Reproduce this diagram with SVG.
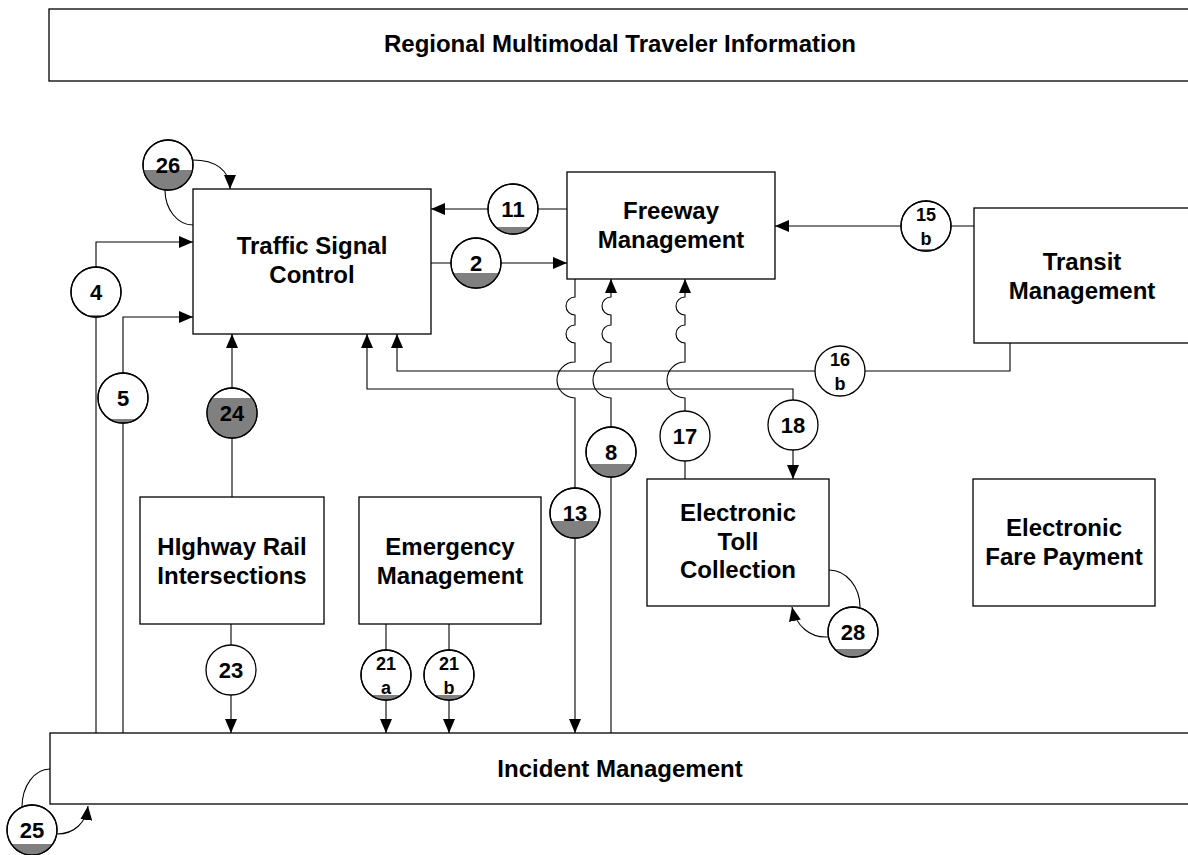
<svg xmlns="http://www.w3.org/2000/svg" width="1188" height="855" viewBox="0 0 1188 855">
<style>
.box{fill:#fff;stroke:#000;stroke-width:1.3}
.t{font-family:"Liberation Sans",Arial,sans-serif;font-weight:bold;font-size:24px;text-anchor:middle;fill:#000}
.n{font-family:"Liberation Sans",Arial,sans-serif;font-weight:bold;font-size:22px;text-anchor:middle;fill:#000}
.s{font-size:18px}
.w{fill:none;stroke:#000;stroke-width:1.1}
.cf{fill:#fff;stroke:#000;stroke-width:1.3}
.co{fill:none;stroke:#000;stroke-width:1.3}
.gr{fill:#808080;stroke:none}
</style>
<defs>
<marker id="ah" markerUnits="userSpaceOnUse" viewBox="0 0 14 12" refX="14" refY="6" markerWidth="14" markerHeight="12" orient="auto-start-reverse"><path d="M0,0 L14,6 L0,12 Z" fill="#000"/></marker>
</defs>

<g id="regional-info"><rect class="box" x="49" y="9" width="1160" height="72"/><text class="t" x="620" y="52">Regional Multimodal Traveler Information</text></g>
<g id="traffic-signal-control"><rect class="box" x="193" y="189" width="238" height="145"/><text class="t" x="312" y="254">Traffic Signal</text><text class="t" x="312" y="283">Control</text></g>
<g id="freeway-management"><rect class="box" x="567" y="172" width="208" height="107"/><text class="t" x="671" y="219">Freeway</text><text class="t" x="671" y="248">Management</text></g>
<g id="transit-management"><rect class="box" x="974" y="208" width="230" height="135"/><text class="t" x="1082" y="270">Transit</text><text class="t" x="1082" y="299">Management</text></g>
<g id="highway-rail"><rect class="box" x="140" y="497" width="184" height="127"/><text class="t" x="232" y="555">HIghway Rail</text><text class="t" x="232" y="584">Intersections</text></g>
<g id="emergency-management"><rect class="box" x="359" y="497" width="182" height="127"/><text class="t" x="450" y="555">Emergency</text><text class="t" x="450" y="584">Management</text></g>
<g id="electronic-toll"><rect class="box" x="647" y="479" width="182" height="127"/><text class="t" x="738" y="521">Electronic</text><text class="t" x="738" y="550">Toll</text><text class="t" x="738" y="578">Collection</text></g>
<g id="electronic-fare"><rect class="box" x="973" y="479" width="182" height="127"/><text class="t" x="1064" y="536">Electronic</text><text class="t" x="1064" y="565">Fare Payment</text></g>
<g id="incident-management"><rect class="box" x="50" y="733" width="1160" height="71"/><text class="t" x="620" y="777">Incident Management</text></g>

<g id="connectors">
<path class="w" marker-end="url(#ah)" d="M567,209 L431,209"/>
<path class="w" marker-end="url(#ah)" d="M431,263 L567,263"/>
<path class="w" marker-end="url(#ah)" d="M974,226 L775,226"/>
<path class="w" marker-end="url(#ah)" d="M1010,343 L1010,371 L397,371 L397,334"/>
<path class="w" marker-start="url(#ah)" marker-end="url(#ah)" d="M367,334 L367,389 L793,389 L793,479"/>
<path class="w" marker-end="url(#ah)" d="M685,479 L685,398 A18,18 0 0 1 685,362 L685,343 A9,9 0 0 1 685,325 L685,315 A9,9 0 0 1 685,297 L685,279"/>
<path class="w" marker-end="url(#ah)" d="M575,279 L575,297 A9,9 0 0 0 575,315 L575,325 A9,9 0 0 0 575,343 L575,362 A18,18 0 0 0 575,398 L575,733"/>
<path class="w" marker-end="url(#ah)" d="M611,733 L611,398 A18,18 0 0 1 611,362 L611,343 A9,9 0 0 1 611,325 L611,315 A9,9 0 0 1 611,297 L611,279"/>
<path class="w" marker-end="url(#ah)" d="M232,497 L232,334"/>
<path class="w" marker-end="url(#ah)" d="M96,733 L96,242 L193,242"/>
<path class="w" marker-end="url(#ah)" d="M123,733 L123,317 L193,317"/>
<path class="w" marker-end="url(#ah)" d="M231,624 L231,733"/>
<path class="w" marker-end="url(#ah)" d="M386,624 L386,733"/>
<path class="w" marker-end="url(#ah)" d="M449,624 L449,733"/>
<path class="w" marker-end="url(#ah)" d="M193,160 C215,160 230,170 230,189"/>
<path class="w" d="M193,225 A28,35 0 0 1 165,190"/>
<path class="w" d="M50,769 A28,38 0 0 0 22,807"/>
<path class="w" marker-end="url(#ah)" d="M57,834 C75,834 86,822 88,806"/>
<path class="w" d="M829,570 A31,37 0 0 1 860,607"/>
<path class="w" marker-end="url(#ah)" d="M828,637 C810,638 796,626 792,607"/>

<g id="f26"><circle class="cf" cx="168" cy="165" r="25"/><path class="gr" d="M143.51,170 A25,25 0 0 0 192.49,170 Z"/><circle class="co" cx="168" cy="165" r="25"/><text class="n" x="168" y="173">26</text></g>
<g id="f11"><circle class="cf" cx="513" cy="209" r="25"/><path class="gr" d="M495.65,227 A25,25 0 0 0 530.35,227 Z"/><circle class="co" cx="513" cy="209" r="25"/><text class="n" x="513" y="217">11</text></g>
<g id="f2"><circle class="cf" cx="476" cy="263" r="25"/><path class="gr" d="M453.09,273 A25,25 0 0 0 498.91,273 Z"/><circle class="co" cx="476" cy="263" r="25"/><text class="n" x="476" y="271">2</text></g>
<g id="f15b"><circle class="cf" cx="926" cy="226" r="25"/><path class="gr" d="M916.2,249 A25,25 0 0 0 935.8,249 Z"/><circle class="co" cx="926" cy="226" r="25"/><text class="n s" x="926" y="221">15</text><text class="n s" x="926" y="245">b</text></g>
<g id="f16b"><circle class="cf" cx="840" cy="371" r="25"/><text class="n s" x="840" y="366">16</text><text class="n s" x="840" y="390">b</text></g>
<g id="f18"><circle class="cf" cx="793" cy="425" r="25"/><text class="n" x="793" y="433">18</text></g>
<g id="f17"><circle class="cf" cx="685" cy="436" r="25"/><text class="n" x="685" y="444">17</text></g>
<g id="f4"><circle class="cf" cx="96" cy="292" r="25"/><path class="gr" d="M86.2,315 A25,25 0 0 0 105.8,315 Z"/><circle class="co" cx="96" cy="292" r="25"/><text class="n" x="96" y="300">4</text></g>
<g id="f5"><circle class="cf" cx="123" cy="398" r="25"/><path class="gr" d="M109.44,419 A25,25 0 0 0 136.56,419 Z"/><circle class="co" cx="123" cy="398" r="25"/><text class="n" x="123" y="406">5</text></g>
<g id="f24"><circle class="cf" cx="232" cy="413" r="25"/><path class="gr" d="M212,398 A25,25 0 1 0 252,398 Z"/><circle class="co" cx="232" cy="413" r="25"/><text class="n" x="232" y="421">24</text></g>
<g id="f23"><circle class="cf" cx="231" cy="670" r="25"/><text class="n" x="231" y="678">23</text></g>
<g id="f21a"><circle class="cf" cx="386" cy="675" r="25"/><path class="gr" d="M371,695 A25,25 0 0 0 401,695 Z"/><circle class="co" cx="386" cy="675" r="25"/><text class="n s" x="386" y="670">21</text><text class="n s" x="386" y="694">a</text></g>
<g id="f21b"><circle class="cf" cx="449" cy="675" r="25"/><path class="gr" d="M434,695 A25,25 0 0 0 464,695 Z"/><circle class="co" cx="449" cy="675" r="25"/><text class="n s" x="449" y="670">21</text><text class="n s" x="449" y="694">b</text></g>
<g id="f13"><circle class="cf" cx="575" cy="513" r="25"/><path class="gr" d="M551.31,521 A25,25 0 0 0 598.69,521 Z"/><circle class="co" cx="575" cy="513" r="25"/><text class="n" x="575" y="521">13</text></g>
<g id="f8"><circle class="cf" cx="611" cy="452" r="25"/><path class="gr" d="M589.07,464 A25,25 0 0 0 632.93,464 Z"/><circle class="co" cx="611" cy="452" r="25"/><text class="n" x="611" y="460">8</text></g>
<g id="f28"><circle class="cf" cx="853" cy="632" r="25"/><path class="gr" d="M834.67,649 A25,25 0 0 0 871.33,649 Z"/><circle class="co" cx="853" cy="632" r="25"/><text class="n" x="853" y="640">28</text></g>
<g id="f25"><circle class="cf" cx="32" cy="830" r="25"/><path class="gr" d="M11.29,844 A25,25 0 0 0 52.71,844 Z"/><circle class="co" cx="32" cy="830" r="25"/><text class="n" x="32" y="838">25</text></g>
</g>
</svg>
